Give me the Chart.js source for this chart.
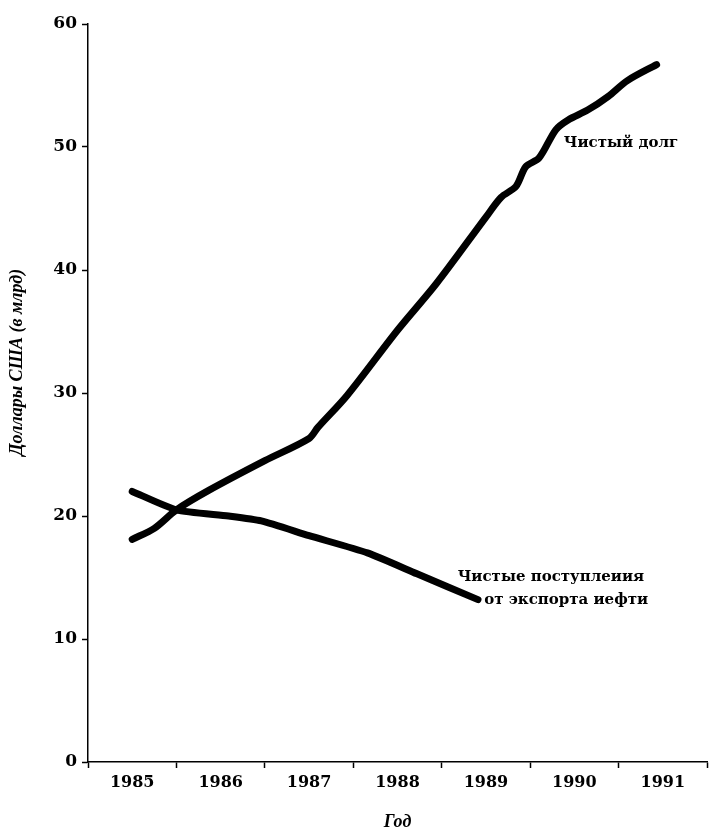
<!DOCTYPE html>
<html>
<head>
<meta charset="utf-8">
<script src="https://cdn.jsdelivr.net/npm/chart.js@4"></script>
<style>
  html, body { margin: 0; padding: 0; background: #fff; }
  #wrap { width: 712px; height: 839px; }
</style>
</head>
<body>
<div id="wrap"><canvas id="debtChart" width="712" height="839"></canvas></div>
<script>
// Years on the axis (labels sit on the year, tick marks between years)
const yearLabels = [1985, 1986, 1987, 1988, 1989, 1990, 1991];
const yTicks = [0, 10, 20, 30, 40, 50, 60];

// Net debt
const debtYears  = [1985.0, 1985.25, 1985.5, 1985.87, 1986.5, 1987.0, 1987.1, 1987.43, 1988.0, 1988.44, 1989.0, 1989.17, 1989.34, 1989.45, 1989.6, 1989.79, 1989.93, 1990.15, 1990.38, 1990.6, 1990.93];
const debtValues = [18.1,   19.0,    20.5,   22.1,    24.5,   26.3,   27.2,   29.8,    35.1,   38.9,    44.3,   45.9,    46.8,    48.4,    49.1,   51.4,    52.2,    53.0,    54.1,    55.4,   56.7];

// Net oil export revenue
const oilYears  = [1985.0, 1985.5, 1986.09, 1986.46, 1987.0, 1987.66, 1988.22, 1988.91];
const oilValues = [22.0,   20.5,   20.0,    19.6,    18.4,   17.0,    15.3,    13.2];

const debtLabel = 'Чистый долг';
const oilLabel = ['Чистые поступлеиия', 'от экспорта иефти'];
const yTitle = 'Доллары США (в млрд)';

const toPoints = (xs, ys) => xs.map((x, i) => ({ x: x, y: ys[i] }));

// series names next to the lines (anchored in data space) and the y title
const lineLabels = {
    id: 'lineLabels',
    afterDatasetsDraw(chart) {
        const ctx = chart.ctx;
        const xs = chart.scales.x, ys = chart.scales.y;
        ctx.save();
        ctx.fillStyle = '#000';
        ctx.font = 'bold 15px "DejaVu Serif"';
        ctx.textBaseline = 'middle';
        ctx.textAlign = 'left';
        ctx.fillText(debtLabel, xs.getPixelForValue(1989.88), ys.getPixelForValue(50.3));
        ctx.fillText(oilLabel[0], xs.getPixelForValue(1988.68), ys.getPixelForValue(15.0));
        ctx.fillText(oilLabel[1], xs.getPixelForValue(1988.98), ys.getPixelForValue(13.2));

        // y axis title, a little above the middle as in the original
        ctx.translate(17, ys.getPixelForValue(32.5));
        ctx.rotate(-Math.PI / 2);
        ctx.textAlign = 'center';
        ctx.font = 'italic bold 18px "Liberation Serif"';
        ctx.fillText(yTitle, 0, 0);
        ctx.restore();
    }
};

const ctx = document.getElementById('debtChart').getContext('2d');
const debtChart = new Chart(ctx, {
    type: 'line',
    data: {
        datasets: [
            {
                label: debtLabel,
                data: toPoints(debtYears, debtValues),
                borderColor: '#000',
                borderWidth: 7,
                borderCapStyle: 'round',
                borderJoinStyle: 'round',
                pointRadius: 0,
                tension: 0.3
            },
            {
                label: oilLabel.join(' '),
                data: toPoints(oilYears, oilValues),
                borderColor: '#000',
                borderWidth: 7,
                borderCapStyle: 'round',
                borderJoinStyle: 'round',
                pointRadius: 0,
                tension: 0.2
            }
        ]
    },
    options: {
        responsive: false,
        animation: false,
        layout: { padding: { top: 24, right: 0, left: 0, bottom: 0 } },
        plugins: {
            legend: { display: false },
            tooltip: { enabled: false }
        },
        scales: {
            x: {
                type: 'linear',
                min: 1984.5,
                max: 1991.5,
                afterBuildTicks: (scale) => {
                    const t = [];
                    yearLabels.forEach(y => { t.push({ value: y - 0.5 }); t.push({ value: y }); });
                    t.push({ value: 1991.5 });
                    scale.ticks = t;
                },
                afterFit: (scale) => { scale.height = 77; },
                border: { color: '#000', width: 1.5 },
                grid: {
                    drawOnChartArea: false,
                    tickLength: 6,
                    tickWidth: 1.5,
                    tickColor: (c) => (c.tick && c.tick.value % 1 === 0) ? 'rgba(0,0,0,0)' : '#000'
                },
                ticks: {
                    autoSkip: false,
                    maxRotation: 0,
                    color: '#000',
                    padding: 5,
                    font: { family: '"DejaVu Serif"', weight: 'bold', size: 16 },
                    callback: (v) => yearLabels.includes(v) ? String(v) : ''
                },
                title: {
                    display: true,
                    text: 'Год',
                    color: '#000',
                    padding: { top: 0, bottom: 6 },
                    font: { family: '"Liberation Serif"', style: 'italic', weight: 'bold', size: 18 }
                }
            },
            y: {
                min: 0,
                max: 60,
                afterBuildTicks: (scale) => { scale.ticks = yTicks.map(v => ({ value: v })); },
                afterFit: (scale) => { scale.width = 88; },
                border: { color: '#000', width: 1.5 },
                grid: {
                    drawOnChartArea: false,
                    tickLength: 6,
                    tickWidth: 1.5,
                    tickColor: '#000'
                },
                ticks: {
                    color: '#000',
                    padding: 5,
                    font: { family: '"DejaVu Serif"', weight: 'bold', size: 17 }
                }
            }
        }
    },
    plugins: [lineLabels]
});
</script>
</body>
</html>
